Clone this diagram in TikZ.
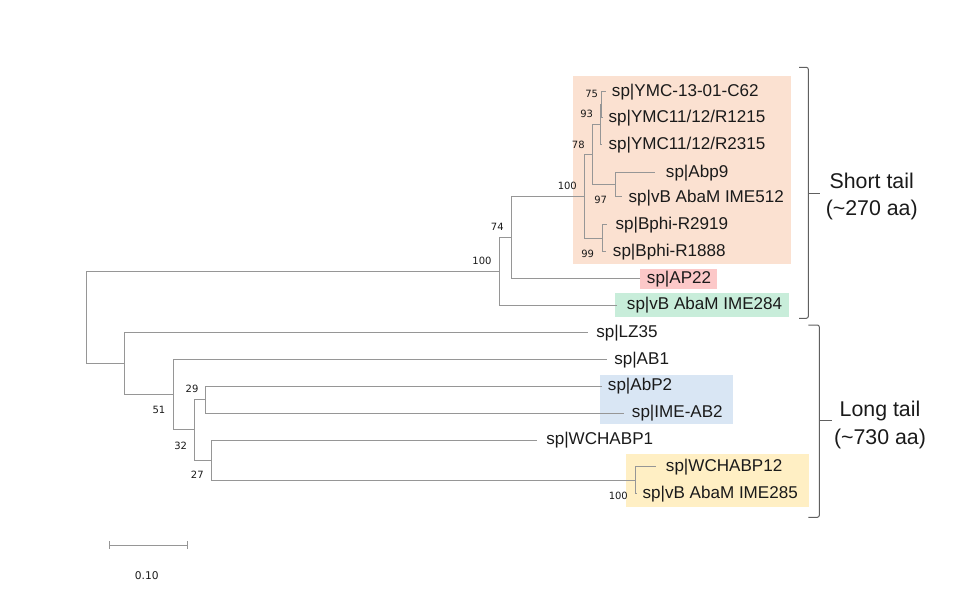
\documentclass[tikz,border=0pt]{standalone}
\usepackage{fontspec}
\setmainfont{Liberation Sans}
\newfontfamily\bsfont{DejaVu Sans}
\definecolor{branchgray}{HTML}{969696}
\definecolor{bracegray}{HTML}{606060}
\definecolor{labelink}{HTML}{1A1A1A}
\definecolor{boxorange}{HTML}{FBE1D1}
\definecolor{boxred}{HTML}{FCC8C8}
\definecolor{boxgreen}{HTML}{C8EDDA}
\definecolor{boxblue}{HTML}{D9E6F4}
\definecolor{boxyellow}{HTML}{FFEFC4}
\begin{document}
\begin{tikzpicture}[x=0.75pt,y=-0.75pt,
  br/.style={draw=branchgray,line width=0.75pt},
  leaf/.style={anchor=west,inner sep=0pt,text height=0.716em,text depth=0pt,
    font=\fontsize{12.8}{14}\selectfont,text=labelink},
  bs/.style={inner sep=0pt,text height=0.73em,text depth=0pt,
    font=\bsfont\fontsize{7.5}{9}\selectfont,text=labelink},
  bracket/.style={draw=bracegray,line width=0.75pt,rounded corners=1.5pt},
  side/.style={inner sep=0pt,text height=0.716em,text depth=0pt,
    font=\fontsize{16}{19}\selectfont,text=labelink}]
\useasboundingbox (0,0) rectangle (953,592);

% highlight boxes
\fill[boxorange] (573.3,75.7) rectangle (791,264);
\fill[boxred] (640,269) rectangle (717.3,289.3);
\fill[boxgreen] (615,293.3) rectangle (789,316.7);
\fill[boxblue] (600,375) rectangle (732.7,424.3);
\fill[boxyellow] (625.7,453.7) rectangle (808.7,506.7);

% internal nodes
\coordinate (root) at (86.7,316.4);
\coordinate (nA) at (499,271.2);
\coordinate (nB) at (511,237.2);
\coordinate (nC) at (584.3,196);
\coordinate (nD) at (592.3,154.2);
\coordinate (nE) at (600,124.5);
\coordinate (nF) at (601.7,104.7);
\coordinate (nG) at (615.7,184.5);
\coordinate (nH) at (602.7,238.2);
\coordinate (nI) at (124,363);
\coordinate (nJ) at (173.3,394.5);
\coordinate (nK) at (194.7,429.7);
\coordinate (nL) at (205.7,399.5);
\coordinate (nM) at (211.3,460);
\coordinate (nN) at (635,480);

% leaf tips
\coordinate (tC62) at (605.7,91.7);
\coordinate (tR1215) at (602.3,117.7);
\coordinate (tR2315) at (602.3,144.3);
\coordinate (tAbp9) at (655,172.3);
\coordinate (tIME512) at (622.3,196.7);
\coordinate (tR2919) at (606.7,224.7);
\coordinate (tR1888) at (606,251.7);
\coordinate (tAP22) at (640,278.3);
\coordinate (tIME284) at (617,305);
\coordinate (tLZ35) at (588.3,332.3);
\coordinate (tAB1) at (606.7,359.3);
\coordinate (tAbP2) at (601.7,386);
\coordinate (tIMEAB2) at (624.3,413);
\coordinate (tWCH1) at (537.3,440);
\coordinate (tWCH12) at (656,466.7);
\coordinate (tIME285) at (636.7,493.3);

% branches
\draw[br] (root) |- (nA);
\draw[br] (root) |- (nI);
\draw[br] (nA) |- (nB);
\draw[br] (nA) |- (tIME284);
\draw[br] (nB) |- (nC);
\draw[br] (nB) |- (tAP22);
\draw[br] (nC) |- (nD);
\draw[br] (nC) |- (nH);
\draw[br] (nD) |- (nE);
\draw[br] (nD) |- (nG);
\draw[br] (nE) |- (nF);
\draw[br] (nE) |- (tR2315);
\draw[br] (nF) |- (tC62);
\draw[br] (nF) |- (tR1215);
\draw[br] (nG) |- (tAbp9);
\draw[br] (nG) |- (tIME512);
\draw[br] (nH) |- (tR2919);
\draw[br] (nH) |- (tR1888);
\draw[br] (nI) |- (tLZ35);
\draw[br] (nI) |- (nJ);
\draw[br] (nJ) |- (tAB1);
\draw[br] (nJ) |- (nK);
\draw[br] (nK) |- (nL);
\draw[br] (nK) |- (nM);
\draw[br] (nL) |- (tAbP2);
\draw[br] (nL) |- (tIMEAB2);
\draw[br] (nM) |- (tWCH1);
\draw[br] (nM) |- (nN);
\draw[br] (nN) |- (tWCH12);
\draw[br] (nN) |- (tIME285);

% leaf labels
\node[leaf] (lC62) at (611.7,91.7) {sp|YMC-13-01-C62};
\node[leaf] (lR1215) at (608.3,117.7) {sp|YMC11/12/R1215};
\node[leaf] (lR2315) at (608.3,144.3) {sp|YMC11/12/R2315};
\node[leaf] (lAbp9) at (665.7,172.3) {sp|Abp9};
\node[leaf] (lIME512) at (628.3,197.5) {sp|vB AbaM IME512};
\node[leaf] (lR2919) at (615.3,224.7) {sp|Bphi-R2919};
\node[leaf] (lR1888) at (612.7,251.7) {sp|Bphi-R1888};
\node[leaf] (lAP22) at (646.7,278.3) {sp|AP22};
\node[leaf] (lIME284) at (626.7,305) {sp|vB AbaM IME284};
\node[leaf] (lLZ35) at (596,332.3) {sp|LZ35};
\node[leaf] (lAB1) at (614,359.3) {sp|AB1};
\node[leaf] (lAbP2) at (607.7,386) {sp|AbP2};
\node[leaf] (lIMEAB2) at (631.7,413) {sp|IME-AB2};
\node[leaf] (lWCH1) at (546,440) {sp|WCHABP1};
\node[leaf] (lWCH12) at (665.7,466.7) {sp|WCHABP12};
\node[leaf] (lIME285) at (642.3,493.3) {sp|vB AbaM IME285};

% bootstrap values
\node[bs] (bA) at (482,259.5) {100};
\node[bs] (bB) at (497.3,225.7) {74};
\node[bs] (bC) at (567.3,184.3) {100};
\node[bs] (bD) at (578.3,143.3) {78};
\node[bs] (bE) at (586.7,112.3) {93};
\node[bs] (bF) at (591.7,92.7) {75};
\node[bs] (bG) at (600.7,198.3) {97};
\node[bs] (bH) at (587.7,252.3) {99};
\node[bs] (bJ) at (159,409) {51};
\node[bs] (bK) at (180.7,444.3) {32};
\node[bs] (bL) at (192,388) {29};
\node[bs] (bM) at (197.3,473.7) {27};
\node[bs] (bN) at (618.3,494.3) {100};

% brackets
\draw[bracket] (799,67.3) -- (808.3,67.3) -- (808.3,318.3) -- (799,318.3);
\draw[bracket] (808.3,193.3) -- (820,193.3);
\draw[bracket] (808.3,325) -- (819.3,325) -- (819.3,517.3) -- (808.3,517.3);
\draw[bracket] (819.3,420.7) -- (831.7,420.7);
\node[side] (sh1) at (871.7,183.3) {Short tail};
\node[side] (sh2) at (871.7,211) {(\textasciitilde 270 aa)};
\node[side] (lo1) at (880,411.7) {Long tail};
\node[side] (lo2) at (880,439.3) {(\textasciitilde 730 aa)};

% scale bar
\coordinate (sb1) at (109.3,545);
\coordinate (sb2) at (187.3,545);
\draw[br] (sb1) -- (sb2);
\draw[br] ([yshift=3pt]sb1) -- ([yshift=-3pt]sb1);
\draw[br] ([yshift=3pt]sb2) -- ([yshift=-3pt]sb2);
\node[bs,font=\bsfont\fontsize{8}{9}\selectfont] (sbl) at (146.7,574.3) {0.10};
\end{tikzpicture}
\end{document}
